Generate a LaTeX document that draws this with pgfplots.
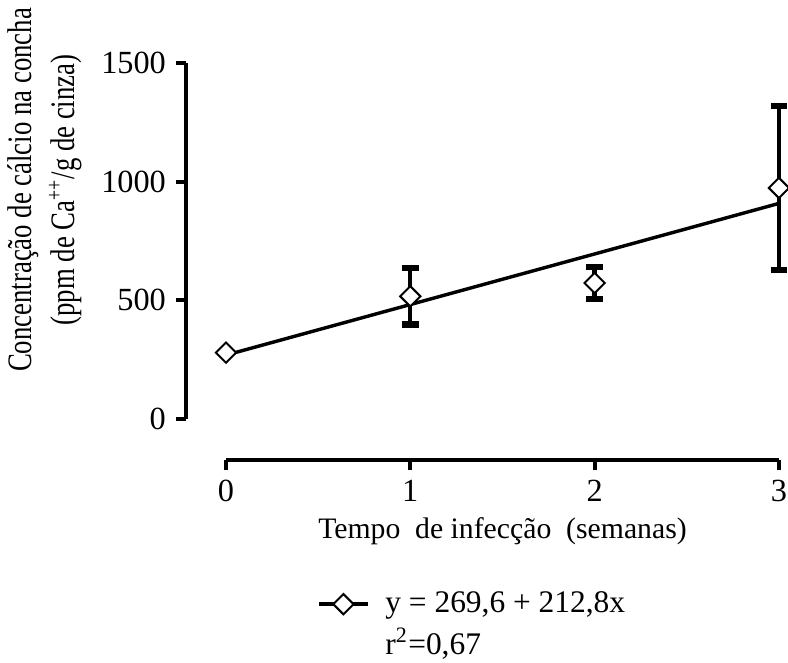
\documentclass[border=0pt]{standalone}
\usepackage{fontspec}
\setmainfont{Liberation Serif}
\usepackage{pgfplots}
\pgfplotsset{compat=1.18}
\begin{document}
\begin{tikzpicture}[font=\fontsize{11}{13.3}\selectfont]
\begin{axis}[
  x=64.5pt, y=0.08314pt,
  xmin=0, xmax=3, ymin=0, ymax=1500,
  axis x line=bottom, axis y line=left,
  axis line style={-, line width=1.4pt},
  axis x line shift=14.35pt, axis y line shift=14pt,
  xtick={0,1,2,3}, ytick={0,500,1000,1500},
  tick align=outside, major tick length=3.5pt,
  major tick style={line width=1.4pt, black},
  minor tick num=0,
  clip=false,
  scaled y ticks=false,
  /pgf/number format/assume math mode=true,
  /pgf/number format/1000 sep={},
  ticklabel style={font=\fontsize{11.3}{13}\selectfont},
  xlabel={Tempo\ \ de infecção\ \ (semanas)},
  xlabel style={font=\fontsize{10.4}{12.5}\selectfont, yshift=1.5pt},
  ylabel={\scalebox{0.78}[1]{Concentração de cálcio na concha}\\[1pt]\scalebox{0.78}[1]{(ppm de Ca\textsuperscript{++}/g de cinza)}},
  ylabel style={align=center, at={(ticklabel cs:0.643)}, font=\fontsize{12}{14}\selectfont},
  legend style={at={(axis cs:0.445,-675)}, anchor=north west, draw=none, fill=none,
    font=\fontsize{11}{13.3}\selectfont,
    /tikz/every odd column/.append style={column sep=3.5pt}},
  legend cell align=left,
]
\addplot[forget plot, only marks, mark=square*, mark size=2.5pt,
  mark options={rotate=45, fill=white, draw=black, line width=0.7pt},
  error bars/.cd, y dir=both, y explicit,
  error bar style={line width=1.5pt, black},
  error mark options={rotate=90, mark size=2.9pt, line width=2.2pt, black}]
  coordinates {
    (0,280) +- (0,0)
    (1,517) +- (0,119)
    (2,573) +- (0,66)
    (3,973) +- (0,344)
  };
\addplot[forget plot, black, line width=1.2pt, no marks]
  coordinates {(0,269.6) (3,908.0)};
\addlegendimage{black, line width=1.3pt, mark=square*, mark size=2.5pt,
  mark options={rotate=45, fill=white, line width=0.7pt, solid}}
\addlegendentry{y = 269,6 + 212,8x}
\addlegendimage{empty legend}
\addlegendentry{r\textsuperscript{2}=0,67}
\coordinate (bbBL) at (axis cs:-1.226,-1023);
\coordinate (bbTR) at (axis cs:3.049,1764);
\end{axis}
\pgfresetboundingbox
\path[use as bounding box] (bbBL) rectangle (bbTR);
\end{tikzpicture}
\end{document}
